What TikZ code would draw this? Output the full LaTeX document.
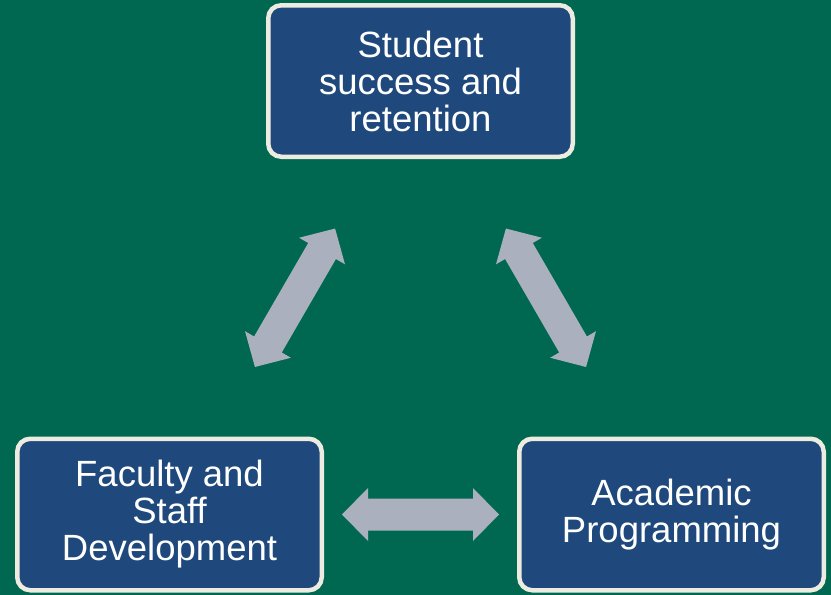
\documentclass[tikz,border=0pt]{standalone}
\usepackage{fontspec}
\setmainfont{Liberation Sans}
\usetikzlibrary{calc}
\definecolor{bggreen}{RGB}{0,104,80}
\definecolor{boxblue}{RGB}{31,73,125}
\definecolor{boxrim}{RGB}{238,236,225}
\definecolor{arrowgray}{RGB}{170,176,190}
% block double arrow centred between two nodes: #1, #2 = nodes, #3 = half length
\newcommand\twowaylink[3]{%
  \fill[link] let \p1=(#1.center), \p2=(#2.center),
      \n1={atan2(\y2-\y1,\x2-\x1)} in
    [shift={($(\p1)!0.5!(\p2)$)}, rotate=\n1]
    (-#3,0) -- (-#3+26,26.5) -- (-#3+26,16) -- (#3-26,16) -- (#3-26,26.5)
    -- (#3,0) -- (#3-26,-26.5) -- (#3-26,-16) -- (-#3+26,-16)
    -- (-#3+26,-26.5) -- cycle;}
\begin{document}
\begin{tikzpicture}[x=1pt,y=-1pt,
  topic/.style={rectangle, rounded corners=13pt, draw=boxrim, line width=4.5pt,
    fill=boxblue, text=white, align=center, inner sep=0pt, outer sep=0pt,
    minimum width=304.5pt, minimum height=151.5pt,
    font=\fontsize{36.5}{37}\selectfont},
  link/.style={fill=arrowgray}]
  % background
  \fill[bggreen] (0,0) rectangle (831,595);
  \useasboundingbox (0,0) rectangle (831,595);
  % the three topics
  \node[topic] (ssr) at (420.5,81) {Student\\success and\\retention};
  \node[topic] (fsd) at (169.5,514.5) {Faculty and\\Staff\\Development};
  \node[topic] (acp) at (671.5,514.5) {Academic\\Programming};
  % two-way links between them
  \twowaylink{fsd}{ssr}{80}
  \twowaylink{ssr}{acp}{80}
  \twowaylink{fsd}{acp}{78.5}
\end{tikzpicture}
\end{document}
